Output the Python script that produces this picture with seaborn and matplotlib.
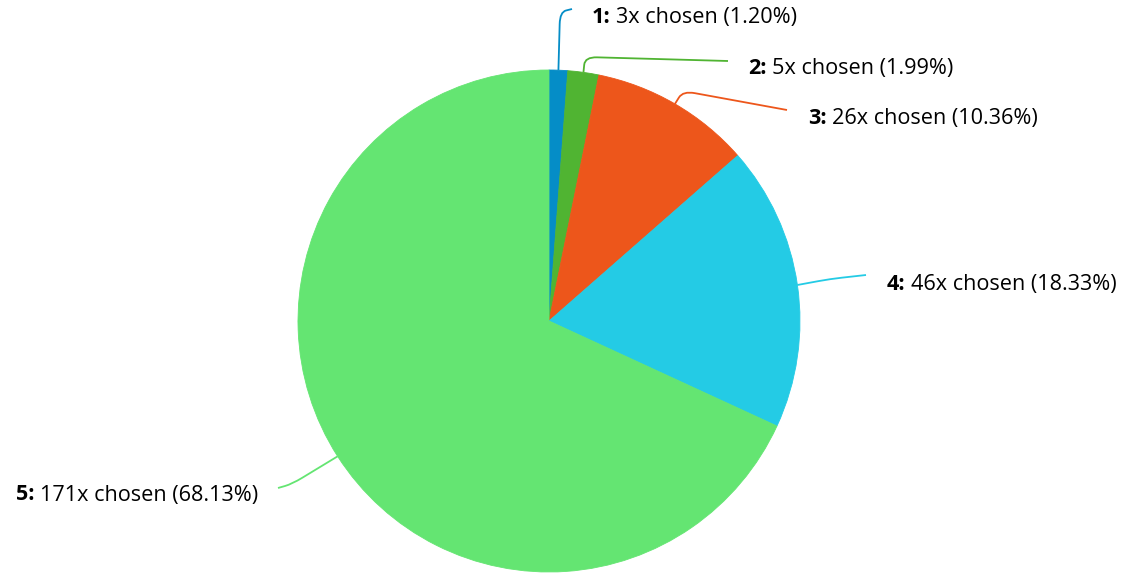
import numpy as np
import seaborn as sns
import matplotlib.pyplot as plt
from matplotlib.path import Path
from matplotlib.patches import PathPatch

# data
ratings = ['1', '2', '3', '4', '5']
counts = [3, 5, 26, 46, 171]
colors = ['#058DC7', '#50B432', '#ED561B', '#24CBE5', '#64E572']

sns.set_theme(style='white')
plt.rcParams['font.family'] = ['Open Sans', 'DejaVu Sans']

W, H = 1124, 573
cx, cy, R = 549, 321, 251  # pie centre / radius in pixels
FS = 15.6

fig = plt.figure(figsize=(W / 100, H / 100), dpi=100)
ax = fig.add_axes([(cx - R) / W, (H - cy - R) / H, 2 * R / W, 2 * R / H])
wedges, _ = ax.pie(counts, colors=colors, startangle=90, counterclock=False,
                   radius=1, wedgeprops=dict(linewidth=0.6))
for w in wedges:
    w.set_edgecolor(w.get_facecolor())
ax.set_xlim(-1, 1)
ax.set_ylim(-1, 1)
ax.set_aspect('equal')
ax.axis('off')


def px(x, y):
    return np.array([(x - cx) / R, (cy - y) / R])


# label layout (pixels): text x, text y, corner, end of connector, side
layout = [
    (592, 17, (560, 12), (572, 9), 'left'),
    (748, 68, (585, 57), (728, 61), 'left'),
    (808, 118, (683, 91), (787, 110), 'left'),
    (887, 284, (830, 279), (866, 275), 'left'),
    (258, 495, (292, 484), (278, 488), 'right'),
]

total = sum(counts)
for w, lab, n, col, (tx, ty, corner, end, side) in zip(
        wedges, ratings, counts, colors, layout):
    ang = np.deg2rad((w.theta1 + w.theta2) / 2)
    start = np.array([np.cos(ang), np.sin(ang)])
    c = px(*corner)
    e = px(*end)
    r = 12 / R
    d1 = start - c
    d2 = e - c
    b1 = c + d1 * min(r, np.linalg.norm(d1) / 2) / np.linalg.norm(d1)
    b2 = c + d2 * min(r, np.linalg.norm(d2) / 2) / np.linalg.norm(d2)
    path = Path([start, b1, c, b2, e],
                [Path.MOVETO, Path.LINETO, Path.CURVE3, Path.CURVE3, Path.LINETO])
    ax.add_patch(PathPatch(path, fill=False, edgecolor=col, lw=1.3,
                           clip_on=False))

    pct = n / total * 100
    rest = f'{n}x chosen ({pct:.2f}%)'
    pos = px(tx, ty)
    if side == 'left':
        t = ax.text(pos[0], pos[1], f'{lab}:', fontweight='bold', fontsize=FS,
                    ha='left', va='center', color='black', clip_on=False)
        ax.annotate(rest, xy=(1, 0.5), xycoords=t, xytext=(4, 0),
                    textcoords='offset points', ha='left', va='center',
                    fontsize=FS, color='black', annotation_clip=False)
    else:
        t = ax.text(pos[0], pos[1], rest, fontsize=FS, ha='right',
                    va='center', color='black', clip_on=False)
        ax.annotate(f'{lab}:', xy=(0, 0.5), xycoords=t, xytext=(-4, 0),
                    textcoords='offset points', ha='right', va='center',
                    fontsize=FS, fontweight='bold', color='black',
                    annotation_clip=False)

fig.savefig('out.png', dpi=100)
